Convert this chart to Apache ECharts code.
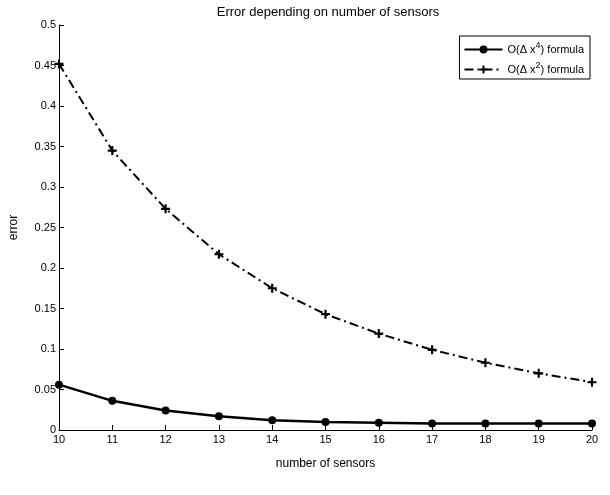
<!DOCTYPE html>
<html>
<head>
<meta charset="utf-8">
<script src="https://cdn.jsdelivr.net/npm/echarts@6/dist/echarts.min.js"></script>
<style>
  body { margin: 0; background: #fff; }
  #main { width: 610px; height: 495px; }
</style>
</head>
<body>
<div id="main"></div>
<script>
// data
var sensors = [10, 11, 12, 13, 14, 15, 16, 17, 18, 19, 20];
var err4 = [0.056, 0.036, 0.024, 0.017, 0.012, 0.010, 0.009, 0.008, 0.008, 0.008, 0.008];
var err2 = [0.452, 0.345, 0.273, 0.217, 0.175, 0.143, 0.119, 0.099, 0.083, 0.070, 0.059];

function pairs(xs, ys) {
  return xs.map(function (x, i) { return [x, ys[i]]; });
}

var plusPath = "path://M-1.2,-5 L1.2,-5 L1.2,-1.2 L5,-1.2 L5,1.2 L1.2,1.2 L1.2,5 L-1.2,5 L-1.2,1.2 L-5,1.2 L-5,-1.2 L-1.2,-1.2 Z";

var myChart = echarts.init(document.getElementById("main"), null, { renderer: "canvas" });

var font = "Liberation Sans";

var option = {
  animation: false,
  backgroundColor: "#fff",
  title: {
    text: "Error depending on number of sensors",
    left: 323,
    textAlign: "center",
    top: 1,
    textStyle: { fontFamily: font, fontSize: 13, fontWeight: "normal", color: "#000" },
  },
  legend: {
    right: 20,
    top: 36,
    orient: "vertical",
    backgroundColor: "#fff",
    borderColor: "#000",
    borderWidth: 1,
    borderRadius: 0,
    padding: [5, 6, 4, 4],
    itemGap: 6,
    itemWidth: 38,
    itemHeight: 10,
    data: ["O4", "O2"],
    formatter: function (name) {
      return name === "O4"
        ? "O(\u0394 x{sup|4}) formula"
        : "O(\u0394 x{sup|2}) formula";
    },
    textStyle: {
      fontFamily: font,
      fontSize: 11,
      color: "#000",
      rich: {
        sup: { fontFamily: font, fontSize: 9, color: "#000", verticalAlign: "bottom", padding: [0, 0, 8, 0] },
      },
    },
  },
  grid: {
    left: 56,
    right: 18,
    top: 25,
    bottom: 65,
    containLabel: false,
  },
  xAxis: {
    type: "value",
    min: 10,
    max: 20,
    interval: 1,
    name: "number of sensors",
    nameLocation: "middle",
    nameGap: 28,
    nameTextStyle: { fontFamily: font, fontSize: 12, color: "#000" },
    axisLine: { lineStyle: { color: "#000", width: 1 } },
    axisTick: { inside: true, length: 5, lineStyle: { color: "#000" } },
    axisLabel: { fontFamily: font, fontSize: 11, color: "#000", margin: 4 },
    splitLine: { show: false },
  },
  yAxis: {
    type: "value",
    min: 0,
    max: 0.5,
    interval: 0.05,
    name: "error",
    nameLocation: "middle",
    nameGap: 39,
    nameTextStyle: { fontFamily: font, fontSize: 12, color: "#000" },
    axisLine: { show: true, lineStyle: { color: "#000", width: 1 } },
    axisTick: { show: true, inside: true, length: 5, lineStyle: { color: "#000" } },
    axisLabel: { fontFamily: font, fontSize: 11, color: "#000", margin: 3 },
    splitLine: { show: false },
  },
  series: [
    {
      name: "O4",
      type: "line",
      data: pairs(sensors, err4),
      symbol: "circle",
      symbolSize: 8,
      showAllSymbol: true,
      itemStyle: { color: "#000" },
      lineStyle: { color: "#000", width: 2.5 },
      z: 3,
    },
    {
      name: "O2",
      type: "line",
      data: pairs(sensors, err2),
      symbol: plusPath,
      symbolSize: 9,
      showAllSymbol: true,
      itemStyle: { color: "#000" },
      lineStyle: { color: "#000", width: 2, type: [9, 4, 2, 4] },
      z: 2,
    },
  ],
};

myChart.setOption(option);
window.addEventListener("resize", myChart.resize);
</script>
</body>
</html>
